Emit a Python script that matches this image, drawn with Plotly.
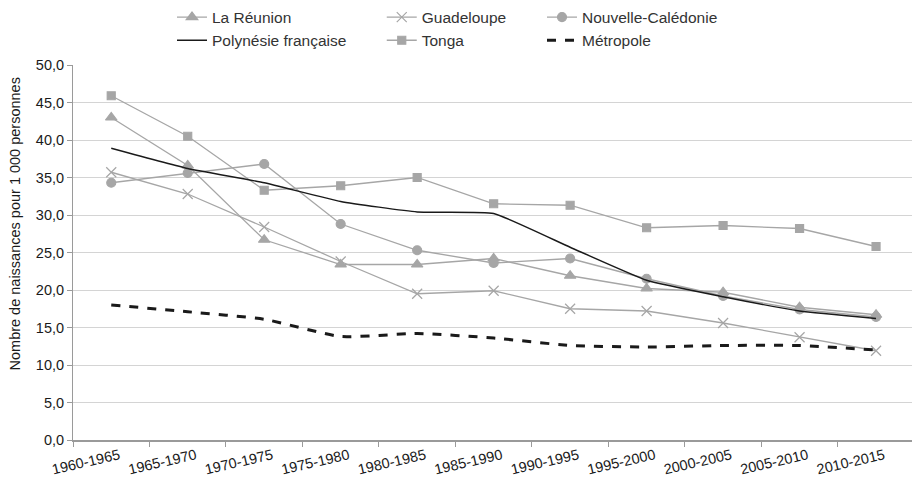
import plotly.graph_objects as go

periods = ["1960-1965", "1965-1970", "1970-1975", "1975-1980", "1980-1985", "1985-1990",
           "1990-1995", "1995-2000", "2000-2005", "2005-2010", "2010-2015"]

reunion = [43.0, 36.6, 26.7, 23.4, 23.4, 24.2, 21.9, 20.2, 19.7, 17.7, 16.7]
guadeloupe = [35.7, 32.8, 28.4, 23.8, 19.5, 19.9, 17.5, 17.2, 15.6, 13.7, 11.9]
nouvelle_caledonie = [34.3, 35.6, 36.8, 28.8, 25.3, 23.6, 24.2, 21.5, 19.2, 17.4, 16.4]
tonga = [45.9, 40.5, 33.3, 33.9, 35.0, 31.5, 31.3, 28.3, 28.6, 28.2, 25.8]
polynesie = [38.9, 36.2, 34.3, 31.8, 30.4, 30.2, 25.7, 21.3, 19.1, 17.2, 16.2]
metropole = [18.0, 17.1, 16.1, 13.8, 14.2, 13.6, 12.6, 12.4, 12.6, 12.6, 12.0]

GREY = "#a6a6a6"

fig = go.Figure()

# grey series with markers
grey_series = [
    ("La Réunion", reunion, "triangle-up", 10, "legend"),
    ("Guadeloupe", guadeloupe, "x-thin", 10, "legend2"),
    ("Nouvelle-Calédonie", nouvelle_caledonie, "circle", 9, "legend3"),
    ("Tonga", tonga, "square", 8, "legend2"),
]
for name, vals, sym, size, leg in grey_series:
    fig.add_trace(go.Scatter(
        x=periods, y=vals, name=name, mode="lines+markers", legend=leg, legendgroup=name,
        line=dict(color=GREY, width=1.3),
        marker=dict(symbol=sym, size=size, color=GREY, line=dict(color=GREY, width=1.2)),
    ))

fig.add_trace(go.Scatter(
    x=periods, y=polynesie, name="Polynésie française", mode="lines", legend="legend",
    legendgroup="poly", line=dict(color="#1a1a1a", width=1.4, shape="spline", smoothing=0.4),
))
fig.add_trace(go.Scatter(
    x=periods, y=metropole, name="Métropole", mode="lines", legend="legend3",
    legendgroup="metro", line=dict(color="#1a1a1a", width=3, dash="dash", shape="spline", smoothing=0.5),
))

# three small vertical legends = three columns; kept inside the canvas so they don't push margins
leg_common = dict(orientation="v", yanchor="top", y=1.172, xanchor="left",
                  bgcolor="rgba(0,0,0,0)", font=dict(size=15.5, color="#333333"),
                  traceorder="grouped", tracegroupgap=0)

fig.update_layout(
    width=912, height=486,
    margin=dict(l=73, r=0, t=65, b=46),
    paper_bgcolor="white", plot_bgcolor="white",
    font=dict(family="Liberation Sans, Arial, sans-serif", color="#333333", size=14),
    separators=", ",
    showlegend=True,
    legend=dict(x=0.118, **leg_common),
    legend2=dict(x=0.368, **leg_common),
    legend3=dict(x=0.559, **leg_common),
    xaxis=dict(
        type="category", range=[-0.5, 10.47], tickangle=-13, automargin=False,
        showline=True, linecolor="#9a9a9a", linewidth=1.5,
        ticks="outside", tickson="boundaries", ticklen=5, tickcolor="#9a9a9a",
        ticklabelshift=8,
        showgrid=False, tickfont=dict(size=14.5, color="#1a1a1a"),
    ),
    yaxis=dict(
        range=[0, 50], dtick=5, tickformat=".1f", automargin=False,
        showline=True, linecolor="#9a9a9a", linewidth=1,
        ticks="outside", ticklen=5, tickcolor="#9a9a9a",
        showgrid=True, gridcolor="#d4d4d4", gridwidth=1.3, zeroline=False,
        tickfont=dict(size=14.5, color="#1a1a1a"),
    ),
    annotations=[dict(
        text="Nombre de naissances pour 1 000 personnes", textangle=-90,
        xref="paper", yref="paper", x=-0.069, y=0.575, xanchor="center", yanchor="middle",
        showarrow=False, font=dict(size=14.5, color="#1a1a1a"),
    )],
)

# drop the page's default body margin so the figure sits at the window's top-left corner
fig.write_html("out.html", config={"displayModeBar": False},
               post_script="document.body.style.margin='0';")
